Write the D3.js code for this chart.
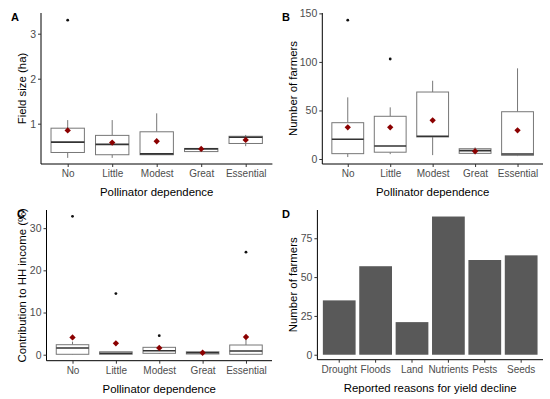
<!DOCTYPE html>
<html>
<head>
<meta charset="utf-8">
<script src="https://cdn.jsdelivr.net/npm/d3@7"></script>
<style>
body { margin: 0; background: #fff; }
text { font-family: Arial, "Liberation Sans", sans-serif; }
</style>
</head>
<body>
<svg id="chart" width="550" height="399"></svg>
<script>
// ---- Data ----
const dependence = ["No", "Little", "Modest", "Great", "Essential"];

// Panel A: Field size (ha)
const fieldLow    = [0.24, 0.24, 0.31, 0.37, 0.50];
const fieldQ1     = [0.36, 0.31, 0.31, 0.38, 0.56];
const fieldMedian = [0.59, 0.54, 0.33, 0.44, 0.70];
const fieldQ3     = [0.90, 0.74, 0.82, 0.45, 0.72];
const fieldHigh   = [1.08, 1.08, 1.23, 0.47, 0.75];
const fieldMean   = [0.85, 0.58, 0.61, 0.44, 0.64];
const fieldOut    = [[3.30], [], [], [], []];

// Panel B: Number of farmers
const farmLow    = [2, 5, 4, 5, 3];
const farmQ1     = [5.5, 7, 22.7, 5.8, 3.8];
const farmMedian = [20.3, 13.4, 23.4, 8.6, 5.1];
const farmQ3     = [37.4, 44, 69, 10.6, 48.7];
const farmHigh   = [63.5, 53.2, 80.6, 12, 93.4];
const farmMean   = [32.6, 32.6, 39.8, 8, 29.5];
const farmOut    = [[143], [103], [], [], []];

// Panel C: Contribution to HH income (%)
const incLow    = [0, 0.1, 0.2, 0.17, 0];
const incQ1     = [0.1, 0.1, 0.33, 0.17, 0.1];
const incMedian = [1.6, 0.33, 0.95, 0.47, 0.88];
const incQ3     = [2.37, 0.7, 1.75, 0.7, 2.3];
const incHigh   = [3.1, 0.7, 1.75, 0.7, 4.3];
const incMean   = [4.1, 2.7, 1.6, 0.47, 4.2];
const incOut    = [[32.8], [14.5], [4.5], [], [24.3]];

// Panel D: Reported reasons for yield decline
const reasons = ["Drought", "Floods", "Land", "Nutrients", "Pests", "Seeds"];
const reasonCounts = [35, 57, 21, 89, 61, 64];

// Tick labels
const ticksA = [1, 2, 3];
const ticksB = [0, 50, 100, 150];
const ticksC = [0, 10, 20, 30];
const ticksD = [0, 25, 50, 75];

// ---- Drawing ----
const svg = d3.select("#chart");
svg.append("rect").attr("width", 550).attr("height", 399).attr("fill", "#fff");

const TICK_COLOR = "#4d4d4d";

function axes(g, x, y, ticks, left, right, top, bottom, xTitle, yTitle, yTitleX, letter, letterPos) {
  // y axis
  const ya = g.append("g").attr("transform", `translate(${left},0)`)
    .call(d3.axisLeft(y).tickValues(ticks).tickFormat(d3.format("d")).tickSize(3).tickPadding(2));
  ya.select(".domain").attr("stroke", "#000").attr("stroke-width", 1).attr("d", `M0,${top}V${bottom}`);
  ya.selectAll(".tick line").attr("stroke", "#333");
  ya.selectAll(".tick text").attr("fill", TICK_COLOR).style("font-size", "10.5px");
  // x axis
  const xa = g.append("g").attr("transform", `translate(0,${bottom})`)
    .call(d3.axisBottom(x).tickSize(3).tickPadding(3));
  xa.select(".domain").attr("stroke", "#000").attr("stroke-width", 1).attr("d", `M${left},0H${right}`);
  xa.selectAll(".tick line").attr("stroke", "#333");
  xa.selectAll(".tick text").attr("fill", TICK_COLOR).style("font-size", "10px");
  // titles
  g.append("text").attr("x", (left + right) / 2).attr("y", bottom + 32)
    .attr("text-anchor", "middle").style("font-size", "11.4px").attr("fill", "#000").text(xTitle);
  g.append("text").attr("transform", `translate(${yTitleX},${(top + bottom) / 2}) rotate(-90)`)
    .attr("text-anchor", "middle").style("font-size", "11.4px").attr("fill", "#000").text(yTitle);
  g.append("text").attr("x", letterPos[0]).attr("y", letterPos[1])
    .style("font-size", "11px").style("font-weight", "bold").attr("fill", "#000").text(letter);
}

function boxPanel(opts) {
  const g = svg.append("g");
  const x = d3.scalePoint().domain(dependence).range([opts.left, opts.right]).padding(0.6);
  const y = d3.scaleLinear().domain(opts.yDomain).range([opts.bottom, opts.top]);
  const bw = x.step() * 0.75;
  const data = dependence.map((c, i) => ({
    c, lo: opts.low[i], q1: opts.q1[i], med: opts.median[i], q3: opts.q3[i],
    hi: opts.high[i], mean: opts.mean[i], out: opts.out[i]
  }));
  const box = g.selectAll("g.box").data(data).join("g").attr("class", "box");
  // whiskers
  box.append("line").attr("x1", d => x(d.c)).attr("x2", d => x(d.c))
    .attr("y1", d => y(d.q3)).attr("y2", d => y(d.hi)).attr("stroke", "#777").attr("stroke-width", 1);
  box.append("line").attr("x1", d => x(d.c)).attr("x2", d => x(d.c))
    .attr("y1", d => y(d.q1)).attr("y2", d => y(d.lo)).attr("stroke", "#777").attr("stroke-width", 1);
  // box
  box.append("rect").attr("x", d => x(d.c) - bw / 2).attr("width", bw)
    .attr("y", d => y(d.q3)).attr("height", d => Math.max(0.5, y(d.q1) - y(d.q3)))
    .attr("fill", "#fff").attr("stroke", "#777").attr("stroke-width", 1);
  // median
  box.append("line").attr("x1", d => x(d.c) - bw / 2).attr("x2", d => x(d.c) + bw / 2)
    .attr("y1", d => y(d.med)).attr("y2", d => y(d.med)).attr("stroke", "#333").attr("stroke-width", 1.6);
  // outliers
  box.selectAll("circle.out").data(d => d.out.map(v => ({ c: d.c, v }))).join("circle")
    .attr("class", "out").attr("cx", d => x(d.c)).attr("cy", d => y(d.v)).attr("r", 1.4).attr("fill", "#111");
  // mean (diamond)
  box.append("path").attr("d", d3.symbol(d3.symbolSquare, 20))
    .attr("transform", d => `translate(${x(d.c)},${y(d.mean)}) rotate(45)`).attr("fill", "#8b0000");
  axes(g, x, y, opts.ticks, opts.left, opts.right, opts.top, opts.bottom,
    "Pollinator dependence", opts.yTitle, opts.yTitleX, opts.letter, opts.letterPos);
}

boxPanel({
  left: 41, right: 272.4, top: 13, bottom: 164, yDomain: [0.104, 3.46],
  low: fieldLow, q1: fieldQ1, median: fieldMedian, q3: fieldQ3, high: fieldHigh, mean: fieldMean, out: fieldOut,
  ticks: ticksA, yTitle: "Field size (ha)", yTitleX: 26, letter: "A", letterPos: [11, 21]
});
boxPanel({
  left: 322.3, right: 543, top: 13, bottom: 164, yDomain: [-5.15, 150.4],
  low: farmLow, q1: farmQ1, median: farmMedian, q3: farmQ3, high: farmHigh, mean: farmMean, out: farmOut,
  ticks: ticksB, yTitle: "Number of farmers", yTitleX: 297, letter: "B", letterPos: [282, 21]
});
boxPanel({
  left: 46.5, right: 272, top: 210, bottom: 360.7, yDomain: [-1.42, 34.3],
  low: incLow, q1: incQ1, median: incMedian, q3: incQ3, high: incHigh, mean: incMean, out: incOut,
  ticks: ticksC, yTitle: "Contribution to HH income (%)", yTitleX: 26, letter: "C", letterPos: [17, 218]
});

// Panel D bar chart
(function () {
  const g = svg.append("g");
  const left = 317.4, right = 543, top = 210, bottom = 359.7;
  const x = d3.scaleBand().domain(reasons).range([left, right]).paddingInner(0.1).paddingOuter(0.15);
  const y = d3.scaleLinear().domain([-3.2, 93.2]).range([bottom, top]);
  g.selectAll("rect.bar").data(reasons.map((r, i) => ({ r, v: reasonCounts[i] }))).join("rect")
    .attr("class", "bar").attr("x", d => x(d.r)).attr("width", x.bandwidth())
    .attr("y", d => y(d.v)).attr("height", d => y(0) - y(d.v)).attr("fill", "#595959");
  axes(g, x, y, ticksD, left, right, top, bottom,
    "Reported reasons for yield decline", "Number of farmers", 297, "D", [282, 218]);
})();
</script>
</body>
</html>
